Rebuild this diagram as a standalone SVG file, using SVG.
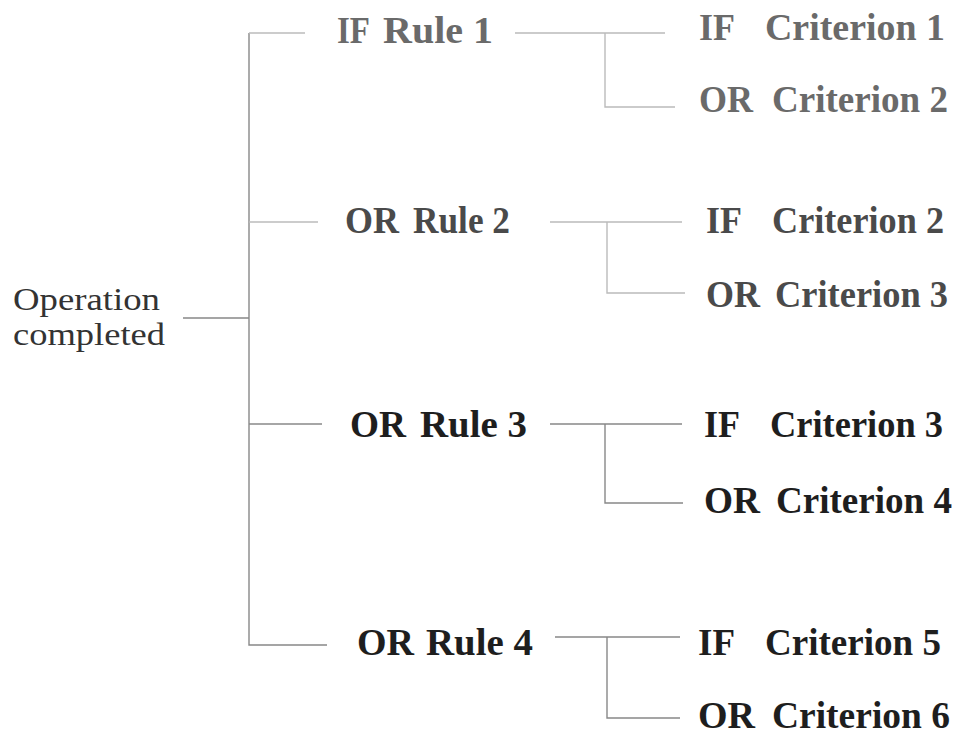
<svg xmlns="http://www.w3.org/2000/svg" width="962" height="736" viewBox="0 0 962 736">
<style>
.t{font-family:"Liberation Serif","Times New Roman",serif;font-weight:bold;font-size:37px}
.r{font-family:"Liberation Serif","Times New Roman",serif;font-size:32px;fill:#333}
.l1{fill:#6a6a6a}.l2{fill:#4a4a4a}.l3{fill:#1e1e1e}
.c{stroke:#888;stroke-width:1.4;fill:none}
.cf{stroke:#bbb;stroke-width:1.4;fill:none}
</style>
<rect width="962" height="736" fill="#fff"/>
<g id="connectors">
<path class="c" d="M183 318H249M249 33V645H327"/>
<path class="cf" d="M249 33H305"/>
<path class="cf" d="M249 222H318"/>
<path class="c" d="M249 424H322"/>
<path class="cf" d="M515 33H665M605 33V107H675"/>
<path class="cf" d="M550 222H682M607 222V293H685"/>
<path class="c" d="M550 424H682M605 424V503H683"/>
<path class="c" d="M555 637H680M607 637V718H680"/>
</g>
<g id="root"><text class="r" x="13" y="310" textLength="147" lengthAdjust="spacingAndGlyphs">Operation</text><text class="r" x="13" y="345" textLength="152" lengthAdjust="spacingAndGlyphs">completed</text></g>
<g id="rule1" class="t l1"><text x="337" y="43" textLength="33" lengthAdjust="spacingAndGlyphs">IF</text><text x="383" y="43" textLength="110" lengthAdjust="spacingAndGlyphs">Rule 1</text></g>
<g id="rule2" class="t l2"><text x="345" y="233" textLength="54" lengthAdjust="spacingAndGlyphs">OR</text><text x="413" y="233" textLength="97" lengthAdjust="spacingAndGlyphs">Rule 2</text></g>
<g id="rule3" class="t l3"><text x="350" y="437" textLength="56" lengthAdjust="spacingAndGlyphs">OR</text><text x="420" y="437" textLength="107" lengthAdjust="spacingAndGlyphs">Rule 3</text></g>
<g id="rule4" class="t l3"><text x="357" y="655" textLength="57" lengthAdjust="spacingAndGlyphs">OR</text><text x="426" y="655" textLength="107" lengthAdjust="spacingAndGlyphs">Rule 4</text></g>
<g id="r1c1" class="t l1"><text x="699" y="40" textLength="36" lengthAdjust="spacingAndGlyphs">IF</text><text x="765" y="40" textLength="180" lengthAdjust="spacingAndGlyphs">Criterion 1</text></g>
<g id="r1c2" class="t l1"><text x="699" y="112" textLength="54" lengthAdjust="spacingAndGlyphs">OR</text><text x="772" y="112" textLength="176" lengthAdjust="spacingAndGlyphs">Criterion 2</text></g>
<g id="r2c1" class="t l2"><text x="706" y="233" textLength="36" lengthAdjust="spacingAndGlyphs">IF</text><text x="772" y="233" textLength="172" lengthAdjust="spacingAndGlyphs">Criterion 2</text></g>
<g id="r2c2" class="t l2"><text x="706" y="307" textLength="54" lengthAdjust="spacingAndGlyphs">OR</text><text x="775" y="307" textLength="173" lengthAdjust="spacingAndGlyphs">Criterion 3</text></g>
<g id="r3c1" class="t l3"><text x="704" y="437" textLength="36" lengthAdjust="spacingAndGlyphs">IF</text><text x="770" y="437" textLength="173" lengthAdjust="spacingAndGlyphs">Criterion 3</text></g>
<g id="r3c2" class="t l3"><text x="704" y="513" textLength="56" lengthAdjust="spacingAndGlyphs">OR</text><text x="776" y="513" textLength="176" lengthAdjust="spacingAndGlyphs">Criterion 4</text></g>
<g id="r4c1" class="t l3"><text x="698" y="655" textLength="37" lengthAdjust="spacingAndGlyphs">IF</text><text x="765" y="655" textLength="176" lengthAdjust="spacingAndGlyphs">Criterion 5</text></g>
<g id="r4c2" class="t l3"><text x="698" y="728" textLength="57" lengthAdjust="spacingAndGlyphs">OR</text><text x="772" y="728" textLength="178" lengthAdjust="spacingAndGlyphs">Criterion 6</text></g>
</svg>
